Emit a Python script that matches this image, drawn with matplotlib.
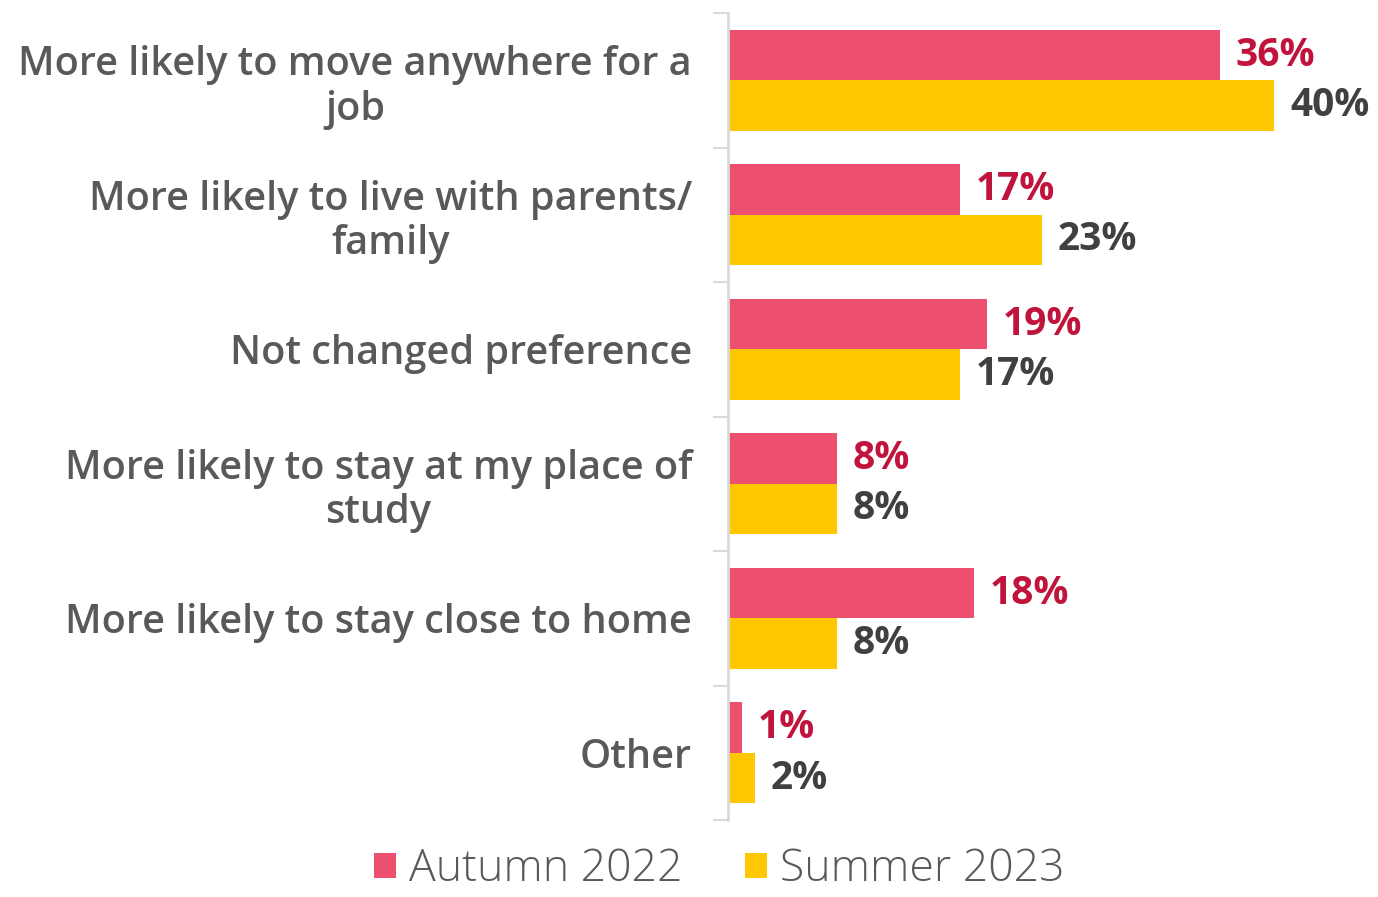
import matplotlib.pyplot as plt
import numpy as np

plt.rcParams['font.family'] = ['Open Sans', 'DejaVu Sans']

categories = ["More likely to move anywhere for a\njob",
              "More likely to live with parents/\nfamily",
              "Not changed preference",
              "More likely to stay at my place of\nstudy",
              "More likely to stay close to home",
              "Other"]
autumn_2022 = [36, 17, 19, 8, 18, 1]
summer_2023 = [40, 23, 17, 8, 8, 2]
series_names = ["Autumn 2022", "Summer 2023"]

red = "#ED4F6E"
yellow = "#FFC700"

fig = plt.figure(figsize=(13.78, 8.97), dpi=100)
ax = fig.add_axes([0.5283, 0.0858, 0.4717, 0.8997])

y = np.arange(len(categories))
h = 0.375
b1 = ax.barh(y - h/2, autumn_2022, height=h, color=red, label=series_names[0])
b2 = ax.barh(y + h/2, summer_2023, height=h, color=yellow, label=series_names[1])

for rect, v in zip(b1, autumn_2022):
    ax.text(rect.get_width() + 1.15, rect.get_y() + rect.get_height()/2, f"{v}%",
            va='center', ha='left', fontsize=28, fontweight='bold', color="#C0143C")
for rect, v in zip(b2, summer_2023):
    ax.text(rect.get_width() + 1.15, rect.get_y() + rect.get_height()/2, f"{v}%",
            va='center', ha='left', fontsize=28, fontweight='bold', color="#404040")

ax.set_ylim(len(categories) - 0.5, -0.5)
ax.set_xlim(0, 47.6)

# ticks on category boundaries, labels in the middle
ax.set_yticks(np.arange(len(categories) + 1) - 0.5)
ax.set_yticklabels([])
ax.set_yticks(y, minor=True)
ax.set_yticklabels(categories, minor=True, fontsize=28.5, fontweight='semibold',
                   color="#595959", multialignment='center', linespacing=1.15)
ax.tick_params(axis='y', which='major', length=11, width=1.5, color="#D9D9D9")
ax.tick_params(axis='y', which='minor', length=0, pad=26)
ax.set_xticks([])

for s in ['top', 'right', 'bottom']:
    ax.spines[s].set_visible(False)
ax.spines['left'].set_color("#D9D9D9")
ax.spines['left'].set_linewidth(2)

fig.legend(handles=[b1, b2], labels=series_names, loc='center', bbox_to_anchor=(0.522, 0.03),
           ncol=2, frameon=False, prop={'size': 32, 'weight': 'light'}, labelcolor="#595959",
           handlelength=0.5, handleheight=0.5, handletextpad=0.3, columnspacing=1.4,
           borderpad=0.2)

fig.savefig("out.png", dpi=100)
